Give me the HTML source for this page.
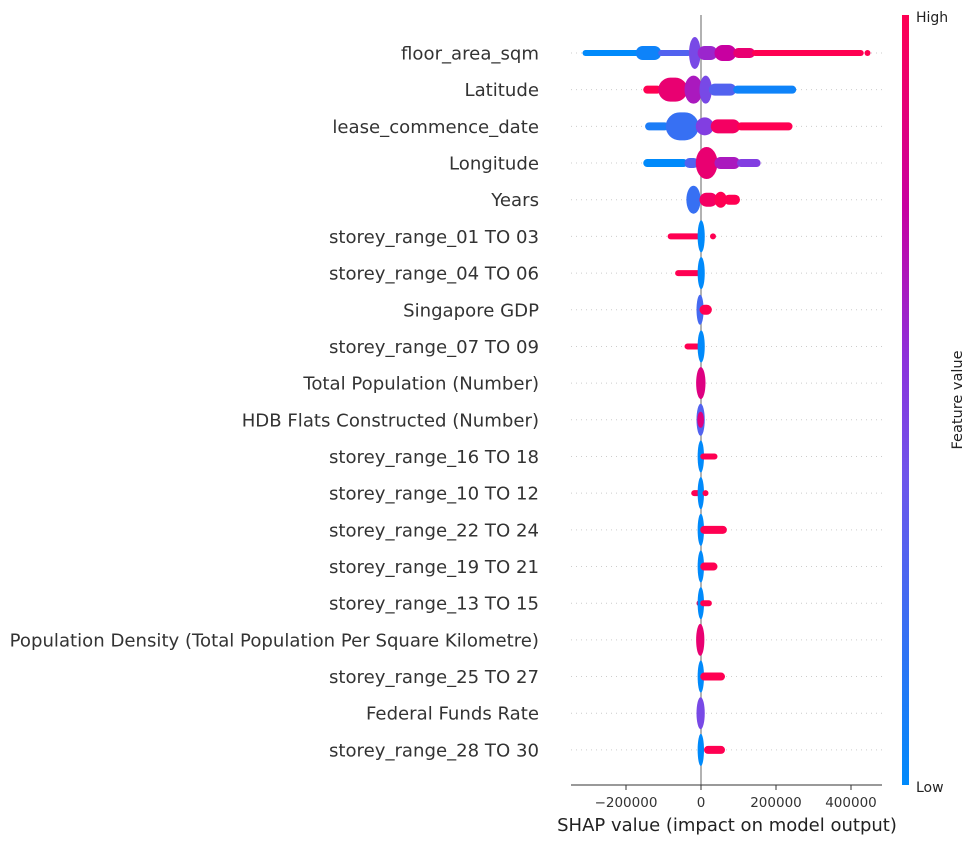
<!DOCTYPE html>
<html><head><meta charset="utf-8"><style>
body{margin:0;background:#fff;}
svg{display:block;font-family:"DejaVu Sans","Liberation Sans",sans-serif;}
</style></head><body>
<svg id="chart" width="976" height="844" viewBox="0 0 976 844" xmlns="http://www.w3.org/2000/svg">
<defs>
<linearGradient id="cbar" x1="0" y1="1" x2="0" y2="0">
<stop offset="0" stop-color="rgb(0,138,251)"/>
<stop offset="0.4" stop-color="rgb(110,85,235)"/>
<stop offset="0.55" stop-color="rgb(140,50,220)"/>
<stop offset="0.75" stop-color="rgb(200,0,160)"/>
<stop offset="1" stop-color="rgb(255,0,82)"/>
</linearGradient>
</defs>
<g id="grid"></g>
<line x1="701" y1="15" x2="701" y2="785" stroke="#999" stroke-width="1.5"/>
<g id="marks"></g>
<g id="labels"></g>
<line x1="571" y1="785" x2="882" y2="785" stroke="#333" stroke-width="1"/>
<g id="xticks"></g>
<text x="727" y="831" font-size="18" fill="#222" text-anchor="middle">SHAP value (impact on model output)</text>
<rect x="902" y="15" width="7" height="770" fill="url(#cbar)"/>
<text x="916" y="22" font-size="14" fill="#222">High</text>
<text x="916" y="792" font-size="14" fill="#222">Low</text>
<text x="962" y="400" font-size="14.5" fill="#222" text-anchor="middle" transform="rotate(-90 962 400)">Feature value</text>
</svg>
<script>
const features = ["floor_area_sqm","Latitude","lease_commence_date","Longitude","Years","storey_range_01 TO 03","storey_range_04 TO 06","Singapore GDP","storey_range_07 TO 09","Total Population (Number)","HDB Flats Constructed (Number)","storey_range_16 TO 18","storey_range_10 TO 12","storey_range_22 TO 24","storey_range_19 TO 21","storey_range_13 TO 15","Population Density (Total Population Per Square Kilometre)","storey_range_25 TO 27","Federal Funds Rate","storey_range_28 TO 30"];
const tickValues = [-200000, 0, 200000, 400000];
const tickLabels = ["\u2212200000","0","200000","400000"];
// blobs per feature: [start SHAP (k), end SHAP (k), half-spread, feature value 0..1]
const blobs0 = [[-312,-160,3,0],[-170,-110,7,0.05],[-110,-30,3,0.3],[-28,-5,16,0.45],[-5,40,7,0.6],[40,90,8,0.75],[90,140,5,0.9],[140,430,3,1],[440,448,3,1]];
const blobs1 = [[-150,-110,4,1],[-110,-40,12,0.9],[-40,0,14,0.65],[0,25,14,0.45],[25,90,6,0.3],[90,250,4,0.05]];
const blobs2 = [[-145,-90,4,0.1],[-90,-10,14,0.2],[-10,30,9,0.5],[30,100,7,0.95],[100,240,4,1]];
const blobs3 = [[-150,-40,4,0],[-40,-10,5,0.3],[-10,40,16,0.9],[40,100,6,0.65],[100,155,4,0.5]];
const blobs4 = [[-35,-5,14,0.2],[0,40,7,0.95],[40,65,8,1],[65,100,5,1]];
const blobs5 = [[-85,-5,3,1],[-5,6,16,0],[28,33,3,1]];
const blobs6 = [[-65,-5,3,1],[-5,6,16,0]];
const blobs7 = [[-8,3,15,0.25],[0,25,5,1]];
const blobs8 = [[-40,-5,3,1],[-5,6,16,0]];
const blobs9 = [[-9,8,16,0.85]];
const blobs10 = [[-8,6,16,0.3],[-6,4,8,0.85]];
const blobs11 = [[-5,4,16,0],[2,40,3,1]];
const blobs12 = [[-22,-2,3,1],[-5,4,16,0],[8,14,3,1]];
const blobs13 = [[-5,4,16,0],[2,65,4,1]];
const blobs14 = [[-5,4,16,0],[2,40,4,1]];
const blobs15 = [[-8,-2,3,1],[-5,4,16,0],[2,25,3,1]];
const blobs16 = [[-9,5,16,0.9]];
const blobs17 = [[-5,4,16,0],[2,60,4,1]];
const blobs18 = [[-8,6,16,0.45]];
const blobs19 = [[-5,4,16,0],[12,60,4,1]];
const allBlobs = [blobs0,blobs1,blobs2,blobs3,blobs4,blobs5,blobs6,blobs7,blobs8,blobs9,blobs10,blobs11,blobs12,blobs13,blobs14,blobs15,blobs16,blobs17,blobs18,blobs19];

const NS = "http://www.w3.org/2000/svg";
function xScale(v){ return 701 + v * 75 / 200000; }
function yScale(i){ return 53 + i * 36.68; }
const stops = [[0,[0,138,251]],[0.4,[110,85,235]],[0.55,[140,50,220]],[0.75,[200,0,160]],[1,[255,0,82]]];
function color(t){
  for(let i=1;i<stops.length;i++){
    if(t<=stops[i][0]){
      const a=stops[i-1],b=stops[i],f=(t-a[0])/(b[0]-a[0]);
      return "rgb("+a[1].map((c,k)=>Math.round(c+(b[1][k]-c)*f)).join(",")+")";
    }
  }
  return "rgb(255,0,82)";
}
const grid=document.getElementById("grid"), marks=document.getElementById("marks"), labels=document.getElementById("labels"), xt=document.getElementById("xticks");
features.forEach((f,i)=>{
  const y=yScale(i);
  const gl=document.createElementNS(NS,"line");
  gl.setAttribute("x1",571);gl.setAttribute("x2",882);gl.setAttribute("y1",y);gl.setAttribute("y2",y);
  gl.setAttribute("stroke","#ccc");gl.setAttribute("stroke-width","1");gl.setAttribute("stroke-dasharray","1 4");
  
  
  grid.appendChild(gl);
  const t=document.createElementNS(NS,"text");
  t.setAttribute("x",539);t.setAttribute("y",y+6.5);t.setAttribute("text-anchor","end");
  t.setAttribute("font-size","18.1");t.setAttribute("fill","#333");
  t.textContent=f;
  
  
  labels.appendChild(t);
  allBlobs[i].forEach(b=>{
    const x1=xScale(b[0]*1000), x2=xScale(b[1]*1000), h=b[2];
    const w=Math.max(x2-x1,3);
    const r=document.createElementNS(NS,"rect");
    r.setAttribute("x",x1-1.5);r.setAttribute("y",y-h);
    r.setAttribute("width",w+3);r.setAttribute("height",2*h);
    r.setAttribute("rx",Math.min(h,(w+3)/2));r.setAttribute("ry",h);
    r.setAttribute("fill",color(b[3]));
    
    
    marks.appendChild(r);
  });
});
tickValues.forEach((v,k)=>{
  const x=xScale(v);
  const l=document.createElementNS(NS,"line");
  l.setAttribute("x1",x);l.setAttribute("x2",x);l.setAttribute("y1",785);l.setAttribute("y2",790);l.setAttribute("stroke","#333");
  
  
  xt.appendChild(l);
  const t=document.createElementNS(NS,"text");
  t.setAttribute("x",x);t.setAttribute("y",807);t.setAttribute("text-anchor","middle");
  t.setAttribute("font-size","13.5");t.setAttribute("fill","#333");
  t.textContent=tickLabels[k];
  
  
  xt.appendChild(t);
});
</script>
</body></html>
